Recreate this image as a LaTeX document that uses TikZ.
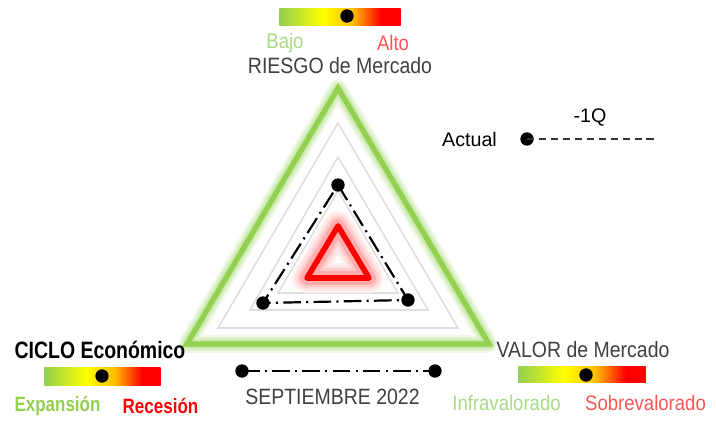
\documentclass[tikz,border=0pt]{standalone}
\usepackage{fontspec}
\setmainfont{Liberation Sans}
\newfontfamily\thinfont[FakeStretch=0.88]{Liberation Sans}
\newfontfamily\narrowfont[FakeStretch=0.82]{Liberation Sans}
\usetikzlibrary{positioning}

\definecolor{ciclogreen}{HTML}{92D050}
\definecolor{barorange}{HTML}{FFC000}
\definecolor{softgreen}{HTML}{A9DA84}
\definecolor{softred}{HTML}{FF5454}
\definecolor{textgray}{HTML}{404040}
\definecolor{gridgray}{HTML}{DEDEDE}

% semaforo bar: visible part is 25bp..75bp
\pgfdeclarehorizontalshading{semaforo}{100bp}{color(0bp)=(ciclogreen); color(25bp)=(ciclogreen);
  color(43bp)=(yellow); color(55bp)=(barorange); color(67bp)=(red); color(100bp)=(red)}

\begin{document}
\begin{tikzpicture}[
                    x=0.02cm,
                    y=-0.02cm,
                    every node/.style={inner sep=0pt},
                    dot/.style={circle,fill=black,minimum size=7.6pt},
                    bar/.style={rectangle,shading=semaforo,shading angle=0},
                    gridtri/.style={draw=gridgray,line width=0.9pt},
                    dashdot/.style={line width=1.25pt,dash pattern=on 10pt off 3pt on 1.2pt off 3pt},
                    prevline/.style={line width=0.7pt,black!80,dash pattern=on 4pt off 2.8pt},
                    thin/.style={font=\thinfont\fontsize{12.6}{14}\selectfont,text=textgray},
                    pole/.style={font=\thinfont\fontsize{12}{14}\selectfont}
                ]
                \useasboundingbox (0,0) rectangle (716,421);

                % outer triangle with glow
                \foreach \w/\c in {10pt/15,7.5pt/30,5pt/50} {
                    \draw[line width=\w,ciclogreen!\c,line join=round]
                        (338,88) -- (489,344) -- (187,344) -- cycle;
                }
                \draw[line width=2.9pt,ciclogreen,line join=miter]
                    (338,88) -- (489,344) -- (187,344) -- cycle;

                % grey levels
                \draw[gridtri] (338,123) -- (458,328) -- (218,328) -- cycle;
                \draw[gridtri] (338,157) -- (428,310) -- (250,310) -- cycle;
                \draw[gridtri] (338,191) -- (398,293) -- (278,293) -- cycle;

                % red centre with glow
                \foreach \w/\c in {17pt/6,14pt/12,11pt/20,8pt/32} {
                    \draw[line width=\w,red!\c,line join=round]
                        (338,226) -- (369,278) -- (307,278) -- cycle;
                }
                \draw[line width=3.2pt,red,line join=round]
                    (338,226) -- (369,278) -- (307,278) -- cycle;

                % current position
                \node[dot] (riesgoNow) at (338,185) {};
                \node[dot] (valorNow)  at (408,300) {};
                \node[dot] (cicloNow)  at (263,303) {};
                \draw[dashdot] (riesgoNow.center) -- (valorNow.center) -- (cicloNow.center) -- cycle;

                % riesgo
                \node[bar,minimum width=69pt,minimum height=10.2pt] (riesgoBar) at (340,17) {};
                \node[dot] (riesgoMark) at (347,16) {};
                \node[pole,text=softgreen] (bajo) at (285,43) {Bajo};
                \node[pole,text=softred]   (alto) at (393,43) {Alto};
                \node[thin] (riesgo) at (340,66) {RIESGO de Mercado};

                % ciclo
                \node[font=\narrowfont\bfseries\fontsize{13.5}{15}\selectfont] (ciclo) at (100,350) {CICLO Económico};
                \node[bar,minimum width=66.3pt,minimum height=10.8pt] (cicloBar) at (102.5,376.5) {};
                \node[dot] (cicloMark) at (102,376) {};
                \node[font=\narrowfont\bfseries\fontsize{11.8}{13}\selectfont,text=ciclogreen] (expansion) at (57.5,406) {Expansión};
                \node[font=\narrowfont\bfseries\fontsize{11.8}{13}\selectfont,text=red] (recesion) at (160.5,406) {Recesión};

                % valor
                \node[thin] (valor) at (583,350) {VALOR de Mercado};
                \node[bar,minimum width=72.6pt,minimum height=9.6pt] (valorBar) at (582,374.5) {};
                \node[dot] (valorMark) at (586,375) {};
                \node[pole,text=softgreen] (infra) at (506.5,403) {Infravalorado};
                \node[pole,text=softred]   (sobre) at (645.5,403) {Sobrevalorado};

                % legend
                \node[dot] (fechaA) at (242,371) {};
                \node[dot] (fechaB) at (435,371) {};
                \draw[dashdot] (fechaA.center) -- (fechaB.center);
                \node[thin] (fecha) at (332.5,397) {SEPTIEMBRE 2022};

                \node[dot] (actualDot) at (527,139) {};
                \coordinate (prevEnd) at (657,139);
                \draw[prevline] (actualDot.center) -- (prevEnd);
                \node[font=\fontsize{11.2}{13}\selectfont] (actual) at (469.5,139) {Actual};
                \node[font=\fontsize{11.2}{13}\selectfont] (prev) at (590,117) {-1Q};
            \end{tikzpicture}
\end{document}
